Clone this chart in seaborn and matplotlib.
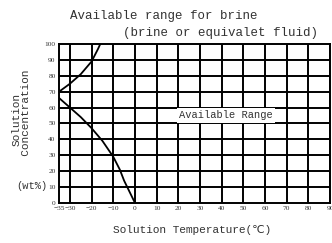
import numpy as np
import pandas as pd
import seaborn as sns
import matplotlib.pyplot as plt

# upper boundary curve
upper_temp = [-35, -30, -25, -20, -17, -16]
upper_conc = [70, 75, 81, 89, 97, 100]

# lower boundary curve
lower_temp = [-35, -30, -25, -20, -15, -10, -7, -5, 0]
lower_conc = [66, 60, 54, 47, 39, 29, 21, 14, 0]

x_ticks = [-35, -30, -20, -10, 0, 10, 20, 30, 40, 50, 60, 70, 80, 90]
y_ticks = list(range(0, 101, 10))

sns.set_style("white")
plt.rcParams['font.family'] = ['Liberation Mono', 'DejaVu Sans']

fig = plt.figure(figsize=(3.32, 2.43), dpi=100)
ax = fig.add_axes([0.178, 0.165, 0.816, 0.654])

df_up = pd.DataFrame({"temp": upper_temp, "conc": upper_conc})
df_lo = pd.DataFrame({"temp": lower_temp, "conc": lower_conc})
sns.lineplot(data=df_up, x="temp", y="conc", color="black", lw=1.3, ax=ax, zorder=3)
sns.lineplot(data=df_lo, x="temp", y="conc", color="black", lw=1.3, ax=ax, zorder=3)

ax.set_xlim(-35, 90)
ax.set_ylim(0, 100)
ax.set_xticks(x_ticks)
ax.set_yticks(y_ticks)
ax.tick_params(labelsize=5.3, length=0, pad=2.5, colors="#333333")
for lbl in ax.get_xticklabels() + ax.get_yticklabels():
    lbl.set_family(['Liberation Serif', 'DejaVu Serif'])
for v in range(-30, 91, 10):
    ax.axvline(v, color="black", lw=1.4, zorder=1)
for v in range(10, 100, 10):
    ax.axhline(v, color="black", lw=1.4, zorder=1)
for s in ax.spines.values():
    s.set_color("black")
    s.set_linewidth(1.4)

ax.set_xlabel("")
ax.set_ylabel("")
ax.text(42, 55, "Available Range", ha="center", va="center", fontsize=7.5,
        color="#333333", zorder=4,
        bbox=dict(facecolor="white", edgecolor="none", pad=1.5))

fig.text(0.494, 0.935, "Available range for brine", ha="center", va="center",
         fontsize=9, color="#333333")
fig.text(0.665, 0.865, "(brine or equivalet fluid)", ha="center", va="center",
         fontsize=9, color="#333333")
fig.text(0.58, 0.055, "Solution Temperature(\u2103)", ha="center", va="center",
         fontsize=8, color="#333333")
fig.text(0.065, 0.51, "Solution\n  Concentration", rotation=90, ha="center",
         va="center", fontsize=8, color="#333333", linespacing=0.95)
fig.text(0.095, 0.235, "(wt%)", ha="center", va="center", fontsize=7.5,
         color="#333333")

fig.savefig("out.png", dpi=100)
